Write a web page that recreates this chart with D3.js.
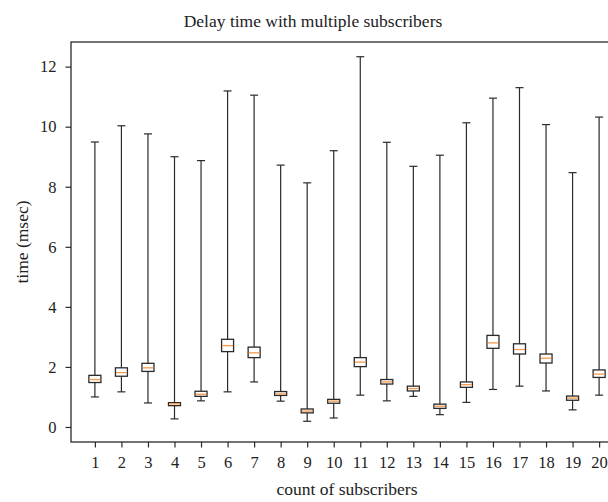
<!DOCTYPE html>
<html>
<head>
<meta charset="utf-8">
<script src="https://cdn.jsdelivr.net/npm/d3@7"></script>
<style>
  body { margin: 0; background: #fff; }
  svg { display: block; }
  text { font-family: "Liberation Serif", "Times New Roman", serif; fill: #222; }
</style>
</head>
<body>
<div class="chart"></div>
<script>
// Box plot data, one entry per subscriber count
const counts  = [1, 2, 3, 4, 5, 6, 7, 8, 9, 10, 11, 12, 13, 14, 15, 16, 17, 18, 19, 20];
const mins    = [1.00, 1.17, 0.80, 0.27, 0.87, 1.17, 1.50, 0.86, 0.19, 0.30, 1.06, 0.87, 1.02, 0.41, 0.82, 1.25, 1.36, 1.20, 0.57, 1.06];
const q1s     = [1.48, 1.69, 1.85, 0.71, 1.02, 2.51, 2.31, 1.05, 0.47, 0.79, 2.01, 1.43, 1.20, 0.62, 1.32, 2.62, 2.43, 2.13, 0.89, 1.65];
const medians = [1.58, 1.81, 1.97, 0.77, 1.09, 2.71, 2.47, 1.10, 0.53, 0.86, 2.16, 1.50, 1.28, 0.69, 1.41, 2.80, 2.58, 2.29, 0.96, 1.76];
const q3s     = [1.72, 1.97, 2.12, 0.81, 1.19, 2.92, 2.66, 1.18, 0.60, 0.92, 2.31, 1.58, 1.36, 0.76, 1.50, 3.05, 2.77, 2.43, 1.03, 1.90];
const maxs    = [9.49, 10.03, 9.76, 9.00, 8.87, 11.19, 11.05, 8.72, 8.13, 9.20, 12.33, 9.48, 8.68, 9.05, 10.13, 10.95, 11.30, 10.07, 8.47, 10.32];
const yTicks  = [0, 2, 4, 6, 8, 10, 12];

const data = counts.map((c, i) => ({
  c, min: mins[i], q1: q1s[i], med: medians[i], q3: q3s[i], max: maxs[i]
}));

// Layout
const W = 608, H = 502;
const margin = { top: 42, left: 71 };
const plotW = 552, plotH = 400;

const svg = d3.select(".chart").append("svg")
  .attr("width", W)
  .attr("height", H);

const g = svg.append("g")
  .attr("transform", `translate(${margin.left},${margin.top})`);

// Scales
const x = d3.scaleLinear().domain([0.1, 20.9]).range([0, plotW]);
const y = d3.scaleLinear().domain([-0.5, 12.82]).range([plotH, 0]);

const boxW = 12, capW = 8;
const stroke = "#2a2a2a";

// Boxes
const boxes = g.selectAll(".box")
  .data(data)
  .enter().append("g")
  .attr("class", "box");

// upper whisker
boxes.append("line")
  .attr("x1", d => x(d.c)).attr("x2", d => x(d.c))
  .attr("y1", d => y(d.q3)).attr("y2", d => y(d.max))
  .attr("stroke", stroke).attr("stroke-width", 1.2);

// lower whisker
boxes.append("line")
  .attr("x1", d => x(d.c)).attr("x2", d => x(d.c))
  .attr("y1", d => y(d.q1)).attr("y2", d => y(d.min))
  .attr("stroke", stroke).attr("stroke-width", 1.2);

// caps
boxes.append("line")
  .attr("x1", d => x(d.c) - capW / 2).attr("x2", d => x(d.c) + capW / 2)
  .attr("y1", d => y(d.max)).attr("y2", d => y(d.max))
  .attr("stroke", stroke).attr("stroke-width", 1.2);

boxes.append("line")
  .attr("x1", d => x(d.c) - capW / 2).attr("x2", d => x(d.c) + capW / 2)
  .attr("y1", d => y(d.min)).attr("y2", d => y(d.min))
  .attr("stroke", stroke).attr("stroke-width", 1.2);

// box body
boxes.append("rect")
  .attr("x", d => x(d.c) - boxW / 2)
  .attr("width", boxW)
  .attr("y", d => y(d.q3))
  .attr("height", d => y(d.q1) - y(d.q3))
  .attr("fill", "#fff")
  .attr("stroke", stroke)
  .attr("stroke-width", 1.3);

// median
boxes.append("line")
  .attr("x1", d => x(d.c) - boxW / 2 + 0.6).attr("x2", d => x(d.c) + boxW / 2 - 0.6)
  .attr("y1", d => y(d.med)).attr("y2", d => y(d.med))
  .attr("stroke", "#f7994a").attr("stroke-width", 1.3);

// Axes
const xAxis = g.append("g")
  .attr("transform", `translate(0,${plotH})`)
  .call(d3.axisBottom(x).tickValues(counts).tickSize(5.5).tickPadding(9).tickSizeOuter(0));

const yAxis = g.append("g")
  .call(d3.axisLeft(y).tickValues(yTicks).tickSize(5.5).tickPadding(9).tickSizeOuter(0));

[xAxis, yAxis].forEach(a => {
  a.select(".domain").remove();
  a.selectAll(".tick line").attr("stroke", stroke).attr("stroke-width", 1.2);
  a.selectAll(".tick text")
    .style("font-family", "Liberation Serif, serif")
    .style("font-size", "16.5px")
    .attr("fill", "#222");
});

// Frame (spines)
g.append("rect")
  .attr("x", 0).attr("y", 0)
  .attr("width", plotW).attr("height", plotH)
  .attr("fill", "none")
  .attr("stroke", stroke)
  .attr("stroke-width", 1.3);

// Titles
svg.append("text")
  .attr("x", 313)
  .attr("y", 27)
  .attr("text-anchor", "middle")
  .style("font-size", "17.5px")
  .text("Delay time with multiple subscribers");

svg.append("text")
  .attr("x", margin.left + x(10.5))
  .attr("y", 495)
  .attr("text-anchor", "middle")
  .style("font-size", "17.5px")
  .text("count of subscribers");

svg.append("text")
  .attr("transform", `translate(28,${margin.top + plotH / 2}) rotate(-90)`)
  .attr("text-anchor", "middle")
  .style("font-size", "17.5px")
  .text("time (msec)");
</script>
</body>
</html>
